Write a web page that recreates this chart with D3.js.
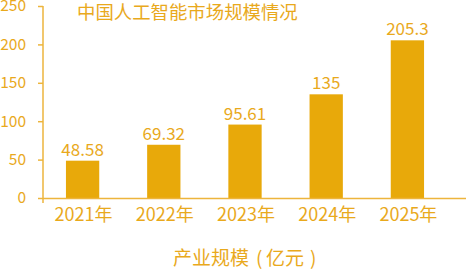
<!DOCTYPE html>
<html>
<head>
<meta charset="utf-8">
<script src="https://cdn.jsdelivr.net/npm/d3@7"></script>
<style>
  body { margin: 0; background: #fff; }
  svg text { font-family: "Noto Sans CJK SC", "Noto Sans", sans-serif; fill: #E9A91C; }
</style>
</head>
<body>
<svg id="chart" width="466" height="272"></svg>
<script>
const years = ['2021年', '2022年', '2023年', '2024年', '2025年'];
const values = [48.58, 69.32, 95.61, 135, 205.3];
const valueLabels = ['48.58', '69.32', '95.61', '135', '205.3'];
const yTicks = [0, 50, 100, 150, 200, 250];

const barColor = '#E8A90A';
const axisColor = '#EDB53C';

const svg = d3.select('#chart');

const x = d3.scaleBand()
    .domain(years)
    .range([42, 448])
    .paddingInner(0.59)
    .paddingOuter(0.295);

const y = d3.scaleLinear()
    .domain([0, 250])
    .range([198, 6]);

// y axis
const yAxis = svg.append('g')
    .attr('transform', 'translate(43,0)')
    .call(d3.axisLeft(y).tickValues(yTicks).tickSize(5).tickPadding(12));
yAxis.select('.domain').remove();
yAxis.selectAll('.tick line').attr('stroke', axisColor).attr('stroke-width', 1.5);
yAxis.selectAll('.tick text')
    .attr('font-size', 15.5)
    .attr('fill', '#E9A91C')
    .style('font-family', '"Noto Sans CJK SC", sans-serif');

svg.append('line')
    .attr('x1', 43).attr('x2', 43)
    .attr('y1', y(250)).attr('y2', 203)
    .attr('stroke', axisColor).attr('stroke-width', 1.5);

// bars
svg.selectAll('.bar')
    .data(values)
    .join('rect')
    .attr('class', 'bar')
    .attr('x', (d, i) => x(years[i]))
    .attr('width', x.bandwidth())
    .attr('y', d => y(d))
    .attr('height', d => y(0) - y(d))
    .attr('fill', barColor);

// x axis line
svg.append('line')
    .attr('x1', 43).attr('x2', 466)
    .attr('y1', y(0) + 0.5).attr('y2', y(0) + 0.5)
    .attr('stroke', axisColor).attr('stroke-width', 1.5);

// value labels
svg.selectAll('.val')
    .data(values)
    .join('text')
    .attr('class', 'val')
    .attr('x', (d, i) => x(years[i]) + x.bandwidth() / 2)
    .attr('y', d => y(d) - 5)
    .attr('text-anchor', 'middle')
    .attr('font-size', 17)
    .text((d, i) => valueLabels[i]);

// x labels
svg.selectAll('.xl')
    .data(years)
    .join('text')
    .attr('class', 'xl')
    .attr('x', d => x(d) + x.bandwidth() / 2 + 1)
    .attr('y', 221)
    .attr('text-anchor', 'middle')
    .attr('font-size', 18)
    .text(d => d);

// title
svg.append('text')
    .attr('x', 77)
    .attr('y', 19)
    .attr('font-size', 18.4)
    .text('中国人工智能市场规模情况');

// axis title, parens centred like the original font
const at = svg.append('text')
    .attr('y', 265)
    .attr('font-size', 19);
at.append('tspan').attr('x', 173).text('产业规模');
at.append('tspan').attr('x', 256).text('(');
at.append('tspan').attr('x', 266).text('亿元');
at.append('tspan').attr('x', 310).text(')');
</script>
</body>
</html>
